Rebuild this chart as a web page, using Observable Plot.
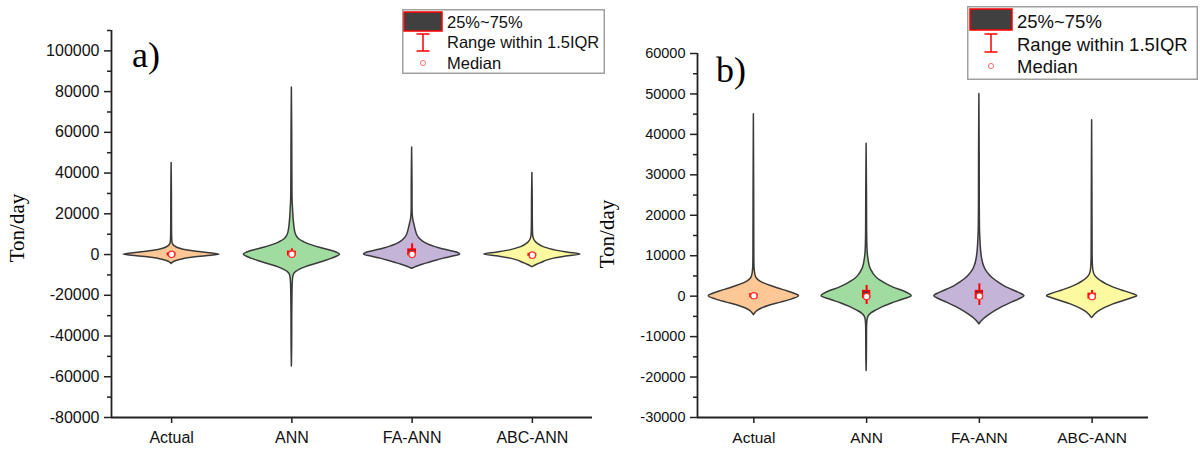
<!DOCTYPE html>
<html>
<head>
<meta charset="utf-8">
<script src="https://cdn.jsdelivr.net/npm/d3@7"></script>
<script src="https://cdn.jsdelivr.net/npm/@observablehq/plot@0.6"></script>
<style>
  body { margin: 0; background: #fff; }
  #wrap { position: relative; width: 1200px; height: 450px; overflow: hidden; background: #fff;
          font-family: "Liberation Sans", Arial, sans-serif; }
  .panel { position: absolute; top: 0; }
  .tag { position: absolute; font-family: "Liberation Serif", "Times New Roman", serif; line-height: 1; color: #000; white-space: nowrap; }
  .ytitle { position: absolute; font-family: "Liberation Serif", "Times New Roman", serif; color: #000;
            white-space: nowrap; transform: translate(-50%, -50%) rotate(-90deg); line-height: 1; }
  .legend { position: absolute; z-index: 5; }
</style>
</head>
<body>
<div id="wrap"></div>
<script>
// ---- data ----
const categories = ["Actual", "ANN", "FA-ANN", "ABC-ANN"];
const fills = ["#FDC896", "#A0DCA0", "#C4B4D8", "#FDF9A0"];

// Violin outlines: [value, relative half-width] from bottom tip to top tip
const profilesA = [
  [[-4600,0],[-4000,0.03],[-3200,0.1],[-2400,0.22],[-1600,0.42],[-800,0.72],[0,1],[800,0.75],[1600,0.45],[2400,0.25],[3200,0.13],[4000,0.07],[4800,0.035],[5600,0.02],[8000,0.012],[15000,0.008],[30000,0.006],[45000,0]],
  [[-55000,0],[-45000,0.006],[-30000,0.008],[-20000,0.012],[-14000,0.018],[-11000,0.03],[-9500,0.05],[-8500,0.09],[-7500,0.16],[-6300,0.28],[-5000,0.45],[-3500,0.65],[-2000,0.84],[-800,0.96],[0,1],[1000,0.93],[2000,0.8],[3200,0.6],[4500,0.42],[6000,0.26],[7500,0.15],[9000,0.1],[11000,0.07],[14000,0.05],[18000,0.035],[22000,0.025],[27000,0.015],[40000,0.01],[60000,0.007],[82000,0]],
  [[-7000,0],[-6600,0.04],[-6000,0.1],[-5000,0.22],[-4000,0.36],[-3000,0.5],[-2000,0.66],[-1000,0.85],[0,1],[1000,0.93],[2000,0.75],[3000,0.58],[4000,0.44],[5000,0.33],[6500,0.22],[8000,0.15],[10000,0.1],[12500,0.07],[15000,0.045],[17000,0.025],[20000,0.012],[35000,0.008],[52500,0]],
  [[-6200,0],[-5700,0.04],[-5000,0.1],[-4000,0.2],[-3000,0.3],[-2000,0.45],[-1000,0.7],[0,1],[900,0.75],[1800,0.52],[2800,0.35],[3800,0.22],[5000,0.13],[6200,0.07],[7500,0.035],[9000,0.018],[15000,0.01],[28000,0.007],[40000,0]]
];
const profilesB = [
  [[-4700,0],[-4200,0.03],[-3600,0.09],[-3000,0.19],[-2300,0.36],[-1600,0.6],[-800,0.85],[0,1],[600,0.9],[1200,0.74],[1900,0.54],[2500,0.38],[3100,0.24],[3700,0.13],[4300,0.07],[5000,0.04],[5800,0.025],[7000,0.015],[10000,0.01],[25000,0.007],[45000,0]],
  [[-18500,0],[-15000,0.006],[-10000,0.008],[-7000,0.012],[-5800,0.022],[-5000,0.045],[-4300,0.1],[-3500,0.22],[-2700,0.36],[-1800,0.56],[-900,0.8],[0,1],[700,0.92],[1400,0.78],[2100,0.6],[2900,0.45],[3700,0.33],[4500,0.23],[5400,0.16],[6300,0.11],[7200,0.075],[8500,0.05],[10000,0.03],[12000,0.018],[16000,0.011],[25000,0.008],[37700,0]],
  [[-7000,0],[-6500,0.03],[-6000,0.07],[-5300,0.14],[-4500,0.24],[-3600,0.37],[-2600,0.53],[-1600,0.72],[-700,0.9],[0,1],[800,0.88],[1600,0.72],[2500,0.55],[3400,0.42],[4300,0.31],[5300,0.22],[6300,0.15],[7500,0.1],[9000,0.065],[11000,0.04],[13500,0.025],[16000,0.015],[22000,0.009],[35000,0.007],[50000,0]],
  [[-5400,0],[-5000,0.03],[-4400,0.08],[-3700,0.16],[-2900,0.29],[-2100,0.46],[-1200,0.7],[-400,0.92],[0,1],[700,0.86],[1400,0.66],[2100,0.48],[2900,0.32],[3700,0.2],[4500,0.11],[5300,0.055],[6200,0.03],[7500,0.018],[10000,0.011],[25000,0.007],[43500,0]]
];

// Box statistics per category (Ton/day)
const q1A  = [-300, -300, -200, -500];
const q3A  = [ 400, 1300, 2400,  200];
const loA  = [-800, -1500, -1200, -1100];
const hiA  = [ 900, 2800, 5300,  800];
const medA = [ 100,  200,  100, -300];

const q1B  = [-200, -400, -580, -500];
const q3B  = [ 400, 1240, 1240,  550];
const loB  = [-500, -2050, -2300, -800];
const hiB  = [ 700, 2650, 3050, 1400];
const medB = [ 100, -100,    0, -100];

// Axis ticks
const majorA = d3.range(-80000, 100001, 20000);
const minorA = d3.range(-70000, 110001, 20000);
const majorB = d3.range(-30000, 60001, 10000);
const minorB = d3.range(-25000, 55001, 10000);

const legendLabels = ["25%~75%", "Range within 1.5IQR", "Median"];

// ---- drawing ----
function violinPanel(o) {
  const rows = [];
  o.profiles.forEach((p, i) => p.forEach(([v, w]) => rows.push({i, c: categories[i], v, w})));
  const stats = categories.map((c, i) => ({i, c, q1: o.q1[i], q3: o.q3[i], lo: o.lo[i], hi: o.hi[i], med: o.med[i]}));
  const hw = 0.4, bw = 0.03;
  return Plot.plot({
    width: 600, height: 450,
    marginLeft: o.ml, marginRight: o.mr, marginTop: o.mt, marginBottom: o.mb,
    style: {fontFamily: '"Liberation Sans", Arial, sans-serif', color: "#222", background: "transparent"},
    x: {domain: [-0.5, 3.5], axis: null},
    y: {domain: o.yDomain, axis: null},
    color: {domain: categories, range: fills},
    marks: [
      Plot.axisY({ticks: o.minor, tickSize: 4, tickFormat: () => "", strokeWidth: 1.5, label: null}),
      Plot.axisY({ticks: o.major, tickSize: 7, tickPadding: 5, tickFormat: d => String(d), fontSize: o.tickFont, strokeWidth: 1.5, label: null, fill: "#111"}),
      Plot.axisX({ticks: [0, 1, 2, 3], tickSize: 6, tickPadding: 8, tickFormat: i => categories[i], fontSize: o.catFont, strokeWidth: 1.5, label: null, fill: "#111"}),
      Plot.ruleX([-0.5], {stroke: "#222", strokeWidth: 1.8}),
      Plot.ruleY([o.yDomain[0]], {stroke: "#222", strokeWidth: 1.8}),
      Plot.areaX(rows, {
        y: "v", x1: d => d.i - hw * d.w, x2: d => d.i + hw * d.w, z: "c",
        fill: "c", stroke: "#3a3a3a", strokeWidth: 1.5, curve: "catmull-rom"
      }),
      Plot.ruleX(stats, {x: "i", y1: "lo", y2: "hi", stroke: "#ff0000", strokeWidth: 2}),
      Plot.rect(stats, {x1: d => d.i - bw, x2: d => d.i + bw, y1: "q1", y2: "q3", fill: "#3a3a3a", stroke: "#ff0000", strokeWidth: 1.6}),
      Plot.dot(stats, {x: "i", y: "med", r: 3.2, fill: "white", stroke: "#ff3030", strokeWidth: 1.3})
    ]
  });
}

function legendBox(o) {
  const svg = d3.create("svg").attr("width", o.w).attr("height", o.h).attr("class", "legend")
    .style("left", o.x + "px").style("top", o.y + "px");
  svg.append("rect").attr("x", 0.75).attr("y", 0.75).attr("width", o.w - 1.5).attr("height", o.h - 1.5)
    .attr("fill", "#fff").attr("stroke", "#a0a0a0").attr("stroke-width", 1.5);
  const s = o.sw;
  svg.append("rect").attr("x", s.x).attr("y", s.y).attr("width", s.w).attr("height", s.h)
    .attr("fill", "#404040").attr("stroke", "#ff0000").attr("stroke-width", 1.5);
  const cx = s.x + s.w / 2;
  const g = svg.append("g").attr("stroke", "#ff0000").attr("stroke-width", 1.5).attr("fill", "none");
  g.append("line").attr("x1", cx).attr("x2", cx).attr("y1", o.ib[0]).attr("y2", o.ib[1]);
  g.append("line").attr("x1", cx - 6.5).attr("x2", cx + 6.5).attr("y1", o.ib[0]).attr("y2", o.ib[0]);
  g.append("line").attr("x1", cx - 6.5).attr("x2", cx + 6.5).attr("y1", o.ib[1]).attr("y2", o.ib[1]);
  svg.append("circle").attr("cx", cx).attr("cy", o.rows[2]).attr("r", 2.6)
    .attr("fill", "none").attr("stroke", "#ff7070").attr("stroke-width", 1);
  legendLabels.forEach((t, k) => {
    svg.append("text").attr("x", o.tx).attr("y", o.rows[k]).attr("dy", "0.36em")
      .attr("font-size", o.font).attr("font-family", '"Liberation Sans", Arial, sans-serif')
      .attr("fill", "#111").text(t);
  });
  return svg.node();
}

const wrap = document.getElementById("wrap");

const pa = violinPanel({
  profiles: profilesA, q1: q1A, q3: q3A, lo: loA, hi: hiA, med: medA,
  yDomain: [-80000, 110000], major: majorA, minor: minorA,
  ml: 111, mr: 8, mt: 30, mb: 33, tickFont: 16, catFont: 16
});
pa.classList.add("panel"); pa.style.left = "0px";
wrap.appendChild(pa);

const pb = violinPanel({
  profiles: profilesB, q1: q1B, q3: q3B, lo: loB, hi: hiB, med: medB,
  yDomain: [-30000, 60000], major: majorB, minor: minorB,
  ml: 97, mr: 52, mt: 53, mb: 33, tickFont: 14.5, catFont: 15.5
});
pb.classList.add("panel"); pb.style.left = "600px";
wrap.appendChild(pb);

// panel tags and y titles
function addDiv(cls, text, css) {
  const d = document.createElement("div");
  d.className = cls; d.textContent = text;
  Object.assign(d.style, css);
  wrap.appendChild(d);
}
addDiv("tag", "a)", {left: "132px", top: "37px", fontSize: "36px"});
addDiv("tag", "b)", {left: "716px", top: "52px", fontSize: "36px"});
addDiv("ytitle", "Ton/day", {left: "17px", top: "228px", fontSize: "21px"});
addDiv("ytitle", "Ton/day", {left: "607px", top: "234px", fontSize: "21px"});

wrap.appendChild(legendBox({x: 402, y: 9, w: 203, h: 65, font: 16.5, tx: 45, rows: [13, 33, 54],
  sw: {x: 2, y: 3, w: 38, h: 19}, ib: [25, 42]}));
wrap.appendChild(legendBox({x: 967, y: 6, w: 231, h: 74, font: 18.5, tx: 50, rows: [15, 38, 60],
  sw: {x: 3, y: 3, w: 42, h: 21}, ib: [28, 46]}));
</script>
</body>
</html>
